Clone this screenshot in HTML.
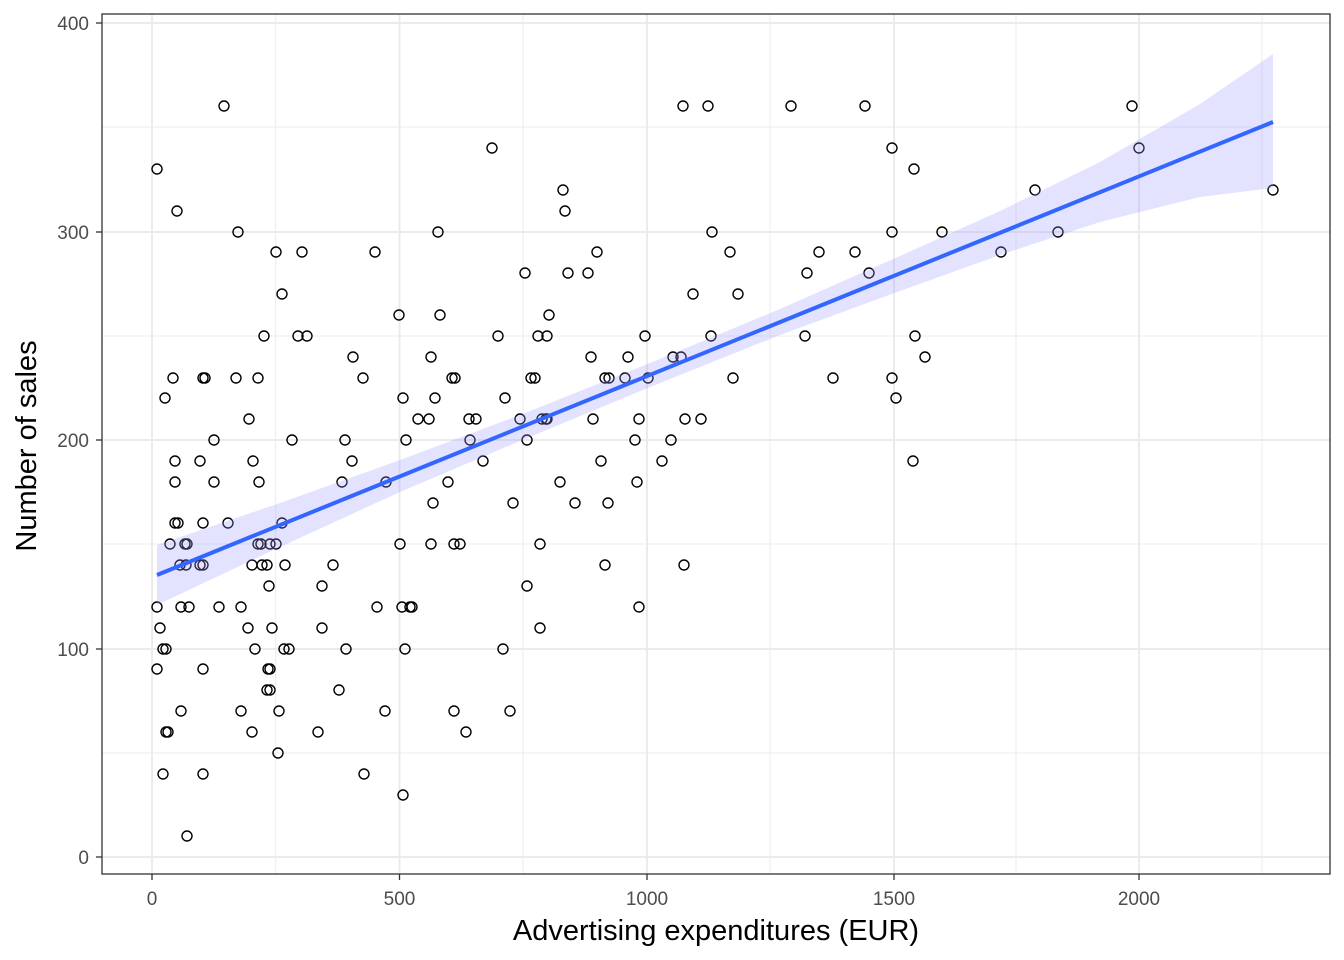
<!DOCTYPE html>
<html><head><meta charset="utf-8"><style>body{margin:0;background:#fff}svg{display:block}text{font-family:"Liberation Sans",Arial,sans-serif}</style></head>
<body>
<svg width="1344" height="960" viewBox="0 0 1344 960" xmlns="http://www.w3.org/2000/svg">
<rect width="1344" height="960" fill="#fff"/>
<g stroke="#ebebeb" stroke-width="1">
<line x1="275.7" y1="14" x2="275.7" y2="874"/><line x1="523" y1="14" x2="523" y2="874"/><line x1="770" y1="14" x2="770" y2="874"/><line x1="1016" y1="14" x2="1016" y2="874"/><line x1="1262" y1="14" x2="1262" y2="874"/>
<line x1="102" y1="753" x2="1330" y2="753"/><line x1="102" y1="544" x2="1330" y2="544"/><line x1="102" y1="336" x2="1330" y2="336"/><line x1="102" y1="127" x2="1330" y2="127"/>
</g>
<g stroke="#ebebeb" stroke-width="2">
<line x1="152" y1="14" x2="152" y2="874"/><line x1="399.5" y1="14" x2="399.5" y2="874"/><line x1="647" y1="14" x2="647" y2="874"/><line x1="894" y1="14" x2="894" y2="874"/><line x1="1139" y1="14" x2="1139" y2="874"/>
<line x1="102" y1="857" x2="1330" y2="857"/><line x1="102" y1="649" x2="1330" y2="649"/><line x1="102" y1="440" x2="1330" y2="440"/><line x1="102" y1="232" x2="1330" y2="232"/><line x1="102" y1="23" x2="1330" y2="23"/>
</g>
<g fill="none" stroke="#000" stroke-width="1.4">
<circle cx="224" cy="106" r="5"/><circle cx="683" cy="106" r="5"/><circle cx="708" cy="106" r="5"/><circle cx="791" cy="106" r="5"/><circle cx="865" cy="106" r="5"/><circle cx="1132" cy="106" r="5"/>
<circle cx="492" cy="148" r="5"/><circle cx="892" cy="148" r="5"/><circle cx="1139" cy="148" r="5"/>
<circle cx="157" cy="169" r="5"/><circle cx="914" cy="169" r="5"/>
<circle cx="563" cy="190" r="5"/><circle cx="1035" cy="190" r="5"/><circle cx="1273" cy="190" r="5"/>
<circle cx="177" cy="211" r="5"/><circle cx="565" cy="211" r="5"/>
<circle cx="238" cy="232" r="5"/><circle cx="438" cy="232" r="5"/><circle cx="712" cy="232" r="5"/><circle cx="892" cy="232" r="5"/><circle cx="942" cy="232" r="5"/><circle cx="1058" cy="232" r="5"/>
<circle cx="276" cy="252" r="5"/><circle cx="302" cy="252" r="5"/><circle cx="375" cy="252" r="5"/><circle cx="597" cy="252" r="5"/><circle cx="730" cy="252" r="5"/><circle cx="855" cy="252" r="5"/><circle cx="819" cy="252" r="5"/><circle cx="1001" cy="252" r="5"/>
<circle cx="525" cy="273" r="5"/><circle cx="568" cy="273" r="5"/><circle cx="588" cy="273" r="5"/><circle cx="807" cy="273" r="5"/><circle cx="869" cy="273" r="5"/>
<circle cx="282" cy="294" r="5"/><circle cx="693" cy="294" r="5"/><circle cx="738" cy="294" r="5"/>
<circle cx="399" cy="315" r="5"/><circle cx="440" cy="315" r="5"/><circle cx="549" cy="315" r="5"/>
<circle cx="264" cy="336" r="5"/><circle cx="298" cy="336" r="5"/><circle cx="307" cy="336" r="5"/><circle cx="498" cy="336" r="5"/><circle cx="538" cy="336" r="5"/><circle cx="547" cy="336" r="5"/><circle cx="645" cy="336" r="5"/><circle cx="711" cy="336" r="5"/><circle cx="805" cy="336" r="5"/><circle cx="915" cy="336" r="5"/>
<circle cx="353" cy="357" r="5"/><circle cx="431" cy="357" r="5"/><circle cx="591" cy="357" r="5"/><circle cx="628" cy="357" r="5"/><circle cx="673" cy="357" r="5"/><circle cx="681" cy="357" r="5"/><circle cx="925" cy="357" r="5"/>
<circle cx="173" cy="378" r="5"/><circle cx="203" cy="378" r="5"/><circle cx="205" cy="378" r="5"/><circle cx="236" cy="378" r="5"/><circle cx="258" cy="378" r="5"/><circle cx="363" cy="378" r="5"/><circle cx="452" cy="378" r="5"/><circle cx="455" cy="378" r="5"/><circle cx="531" cy="378" r="5"/><circle cx="535" cy="378" r="5"/><circle cx="605" cy="378" r="5"/><circle cx="609" cy="378" r="5"/><circle cx="625" cy="378" r="5"/><circle cx="648" cy="378" r="5"/><circle cx="733" cy="378" r="5"/><circle cx="833" cy="378" r="5"/><circle cx="892" cy="378" r="5"/>
<circle cx="165" cy="398" r="5"/><circle cx="403" cy="398" r="5"/><circle cx="435" cy="398" r="5"/><circle cx="505" cy="398" r="5"/><circle cx="896" cy="398" r="5"/>
<circle cx="249" cy="419" r="5"/><circle cx="418" cy="419" r="5"/><circle cx="429" cy="419" r="5"/><circle cx="469" cy="419" r="5"/><circle cx="476" cy="419" r="5"/><circle cx="520" cy="419" r="5"/><circle cx="542" cy="419" r="5"/><circle cx="546" cy="419" r="5"/><circle cx="547" cy="419" r="5"/><circle cx="593" cy="419" r="5"/><circle cx="639" cy="419" r="5"/><circle cx="685" cy="419" r="5"/><circle cx="701" cy="419" r="5"/>
<circle cx="214" cy="440" r="5"/><circle cx="292" cy="440" r="5"/><circle cx="345" cy="440" r="5"/><circle cx="406" cy="440" r="5"/><circle cx="470" cy="440" r="5"/><circle cx="527" cy="440" r="5"/><circle cx="635" cy="440" r="5"/><circle cx="671" cy="440" r="5"/>
<circle cx="175" cy="461" r="5"/><circle cx="200" cy="461" r="5"/><circle cx="253" cy="461" r="5"/><circle cx="352" cy="461" r="5"/><circle cx="483" cy="461" r="5"/><circle cx="601" cy="461" r="5"/><circle cx="662" cy="461" r="5"/><circle cx="913" cy="461" r="5"/>
<circle cx="175" cy="482" r="5"/><circle cx="214" cy="482" r="5"/><circle cx="259" cy="482" r="5"/><circle cx="342" cy="482" r="5"/><circle cx="386" cy="482" r="5"/><circle cx="448" cy="482" r="5"/><circle cx="560" cy="482" r="5"/><circle cx="637" cy="482" r="5"/>
<circle cx="433" cy="503" r="5"/><circle cx="513" cy="503" r="5"/><circle cx="575" cy="503" r="5"/><circle cx="608" cy="503" r="5"/>
<circle cx="175" cy="523" r="5"/><circle cx="178" cy="523" r="5"/><circle cx="203" cy="523" r="5"/><circle cx="228" cy="523" r="5"/><circle cx="282" cy="523" r="5"/>
<circle cx="170" cy="544" r="5"/><circle cx="185" cy="544" r="5"/><circle cx="187" cy="544" r="5"/><circle cx="258" cy="544" r="5"/><circle cx="261" cy="544" r="5"/><circle cx="270" cy="544" r="5"/><circle cx="276" cy="544" r="5"/><circle cx="400" cy="544" r="5"/><circle cx="431" cy="544" r="5"/><circle cx="454" cy="544" r="5"/><circle cx="460" cy="544" r="5"/><circle cx="540" cy="544" r="5"/>
<circle cx="180" cy="565" r="5"/><circle cx="186" cy="565" r="5"/><circle cx="200" cy="565" r="5"/><circle cx="203" cy="565" r="5"/><circle cx="252" cy="565" r="5"/><circle cx="262" cy="565" r="5"/><circle cx="267" cy="565" r="5"/><circle cx="285" cy="565" r="5"/><circle cx="333" cy="565" r="5"/><circle cx="605" cy="565" r="5"/><circle cx="684" cy="565" r="5"/>
<circle cx="269" cy="586" r="5"/><circle cx="322" cy="586" r="5"/><circle cx="527" cy="586" r="5"/>
<circle cx="157" cy="607" r="5"/><circle cx="181" cy="607" r="5"/><circle cx="189" cy="607" r="5"/><circle cx="219" cy="607" r="5"/><circle cx="241" cy="607" r="5"/><circle cx="377" cy="607" r="5"/><circle cx="402" cy="607" r="5"/><circle cx="410" cy="607" r="5"/><circle cx="412" cy="607" r="5"/><circle cx="639" cy="607" r="5"/>
<circle cx="160" cy="628" r="5"/><circle cx="248" cy="628" r="5"/><circle cx="272" cy="628" r="5"/><circle cx="322" cy="628" r="5"/><circle cx="540" cy="628" r="5"/>
<circle cx="163" cy="649" r="5"/><circle cx="166" cy="649" r="5"/><circle cx="255" cy="649" r="5"/><circle cx="284" cy="649" r="5"/><circle cx="289" cy="649" r="5"/><circle cx="346" cy="649" r="5"/><circle cx="405" cy="649" r="5"/><circle cx="503" cy="649" r="5"/>
<circle cx="157" cy="669" r="5"/><circle cx="203" cy="669" r="5"/><circle cx="268" cy="669" r="5"/><circle cx="270" cy="669" r="5"/>
<circle cx="267" cy="690" r="5"/><circle cx="270" cy="690" r="5"/><circle cx="339" cy="690" r="5"/>
<circle cx="181" cy="711" r="5"/><circle cx="241" cy="711" r="5"/><circle cx="279" cy="711" r="5"/><circle cx="385" cy="711" r="5"/><circle cx="454" cy="711" r="5"/><circle cx="510" cy="711" r="5"/>
<circle cx="166" cy="732" r="5"/><circle cx="168" cy="732" r="5"/><circle cx="252" cy="732" r="5"/><circle cx="318" cy="732" r="5"/><circle cx="466" cy="732" r="5"/>
<circle cx="278" cy="753" r="5"/>
<circle cx="163" cy="774" r="5"/><circle cx="203" cy="774" r="5"/><circle cx="364" cy="774" r="5"/>
<circle cx="403" cy="795" r="5"/>
<circle cx="187" cy="836" r="5"/>
</g>
<polygon fill="#9999ff" fill-opacity="0.28" points="157,545 280,503 400,460 520,415 650,363 780,309 900,256 1000,211 1100,162 1200,104 1273,54 1273,188 1200,197 1100,222 1000,255 900,291 780,335 650,387 520,441 400,492 280,547 157,605"/>
<line x1="157" y1="575" x2="1273" y2="122" stroke="#3366ff" stroke-width="4"/>
<rect x="102" y="14" width="1228" height="860" fill="none" stroke="#333" stroke-width="1.3"/>
<g stroke="#333" stroke-width="1.3">
<line x1="152" y1="874" x2="152" y2="880"/><line x1="399.5" y1="874" x2="399.5" y2="880"/><line x1="647" y1="874" x2="647" y2="880"/><line x1="894" y1="874" x2="894" y2="880"/><line x1="1139" y1="874" x2="1139" y2="880"/>
<line x1="96" y1="857" x2="102" y2="857"/><line x1="96" y1="649" x2="102" y2="649"/><line x1="96" y1="440" x2="102" y2="440"/><line x1="96" y1="232" x2="102" y2="232"/><line x1="96" y1="23" x2="102" y2="23"/>
</g>
<g fill="#4d4d4d" font-size="19" text-anchor="middle">
<text x="152" y="905">0</text><text x="399.5" y="905">500</text><text x="647" y="905">1000</text><text x="894" y="905">1500</text><text x="1139" y="905">2000</text>
</g>
<g fill="#4d4d4d" font-size="19" text-anchor="end">
<text x="89" y="864">0</text><text x="89" y="656">100</text><text x="89" y="447">200</text><text x="89" y="239">300</text><text x="89" y="30">400</text>
</g>
<text x="716" y="940" font-size="29" text-anchor="middle">Advertising expenditures (EUR)</text>
<text transform="translate(36,446) rotate(-90)" font-size="29" text-anchor="middle">Number of sales</text>
</svg>
</body></html>
